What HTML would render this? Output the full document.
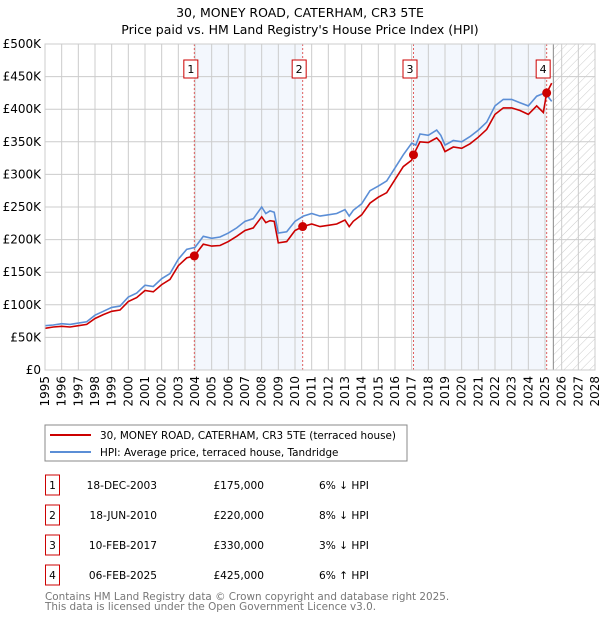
<!DOCTYPE html>
<html><head><meta charset="utf-8"><style>
body{margin:0;background:#fff;font-family:"Liberation Sans","DejaVu Sans",sans-serif;}
#wrap{position:relative;width:600px;height:620px;overflow:hidden;}
</style></head><body><div id="wrap">
<svg id="svg" width="600" height="620" xmlns="http://www.w3.org/2000/svg" font-family="DejaVu Sans, Liberation Sans, sans-serif">
<defs><pattern id="hatch" width="6" height="6" patternUnits="userSpaceOnUse" patternTransform="rotate(45)"><line x1="0" y1="0" x2="0" y2="6" stroke="#ccc" stroke-width="1"/></pattern></defs>
<text x="300" y="17" text-anchor="middle" font-size="12.5">30, MONEY ROAD, CATERHAM, CR3 5TE</text>
<text x="300" y="34" text-anchor="middle" font-size="12.5">Price paid vs. HM Land Registry's House Price Index (HPI)</text>
<g id="plot"></g>
<rect x="45" y="425" width="362" height="36" fill="#fff" stroke="#888"/>
<line x1="50" y1="435" x2="91" y2="435" stroke="#cc0000" stroke-width="2"/>
<text x="100" y="439" font-size="10.4">30, MONEY ROAD, CATERHAM, CR3 5TE (terraced house)</text>
<line x1="50" y1="452" x2="91" y2="452" stroke="#5b8ed6" stroke-width="2"/>
<text x="100" y="456" font-size="10.4">HPI: Average price, terraced house, Tandridge</text>
<g id="table" font-size="10.6"></g>
<text x="45" y="600" font-size="10.4" fill="#777">Contains HM Land Registry data © Crown copyright and database right 2025.</text>
<text x="45" y="610" font-size="10.4" fill="#777">This data is licensed under the Open Government Licence v3.0.</text>
</svg></div>
<script>
const hpiT=[1995,1995.5,1996,1996.5,1997,1997.5,1998,1998.5,1999,1999.5,2000,2000.5,2001,2001.5,2002,2002.5,2003,2003.5,2004,2004.5,2005,2005.5,2006,2006.5,2007,2007.5,2008,2008.25,2008.5,2008.75,2009,2009.5,2010,2010.5,2011,2011.5,2012,2012.5,2013,2013.25,2013.5,2014,2014.5,2015,2015.5,2016,2016.5,2017,2017.25,2017.5,2018,2018.5,2018.75,2019,2019.5,2020,2020.5,2021,2021.5,2022,2022.5,2023,2023.5,2024,2024.5,2025,2025.4];
const hpiV=[68,69,71,70,72,74,84,90,96,98,112,118,130,128,140,148,170,185,188,205,202,204,210,218,228,232,250,240,244,242,210,212,228,236,240,236,238,240,246,236,245,255,275,282,290,310,330,348,345,362,360,368,360,345,352,350,358,368,380,405,415,415,410,405,420,425,412];
const redT=[1995,1995.5,1996,1996.5,1997,1997.5,1998,1998.5,1999,1999.5,2000,2000.5,2001,2001.5,2002,2002.5,2003,2003.5,2003.96,2004.5,2005,2005.5,2006,2006.5,2007,2007.5,2008,2008.25,2008.5,2008.75,2009,2009.5,2010,2010.46,2011,2011.5,2012,2012.5,2013,2013.25,2013.5,2014,2014.5,2015,2015.5,2016,2016.5,2017,2017.11,2017.5,2018,2018.5,2018.75,2019,2019.5,2020,2020.5,2021,2021.5,2022,2022.5,2023,2023.5,2024,2024.5,2024.9,2025.1,2025.4];
const redV=[64,66,67,66,68,70,79,85,90,92,105,111,122,120,131,139,160,172,175,193,190,191,197,205,214,218,235,226,229,228,195,197,214,220,224,220,222,224,230,220,228,238,256,265,272,292,312,322,330,350,349,356,349,335,342,340,347,357,369,392,402,402,398,392,405,395,425,440];
const saleT=[2003.96,2010.46,2017.11,2025.1];
const saleV=[175,220,330,425];
const saleLabels=["1","2","3","4"];
const saleDates=["18-DEC-2003","18-JUN-2010","10-FEB-2017","06-FEB-2025"];
const salePrices=["£175,000","£220,000","£330,000","£425,000"];
const saleDiff=["6% ↓ HPI","8% ↓ HPI","3% ↓ HPI","6% ↑ HPI"];
const yTicks=[0,50,100,150,200,250,300,350,400,450,500];
const yTickLabels=["£0","£50K","£100K","£150K","£200K","£250K","£300K","£350K","£400K","£450K","£500K"];

const NS="http://www.w3.org/2000/svg";
const X0=45,X1=595,Y0=370,Y1=44;
const xs=t=>X0+(t-1995)/(2028-1995)*(X1-X0);
const ys=v=>Y0-v/500*(Y0-Y1);
const plot=document.getElementById('plot');
function mk(tag,attrs,parent){const e=document.createElementNS(NS,tag);for(const k in attrs)e.setAttribute(k,attrs[k]);(parent||plot).appendChild(e);return e;}
let e;
e=mk('rect',{x:X0,y:Y1,width:X1-X0,height:Y0-Y1,fill:'#fff'});


e=mk('rect',{x:xs(saleT[0]),y:Y1,width:xs(saleT[1])-xs(saleT[0]),height:Y0-Y1,fill:'#eef3fc',opacity:0.7});


e=mk('rect',{x:xs(saleT[2]),y:Y1,width:xs(saleT[3])-xs(saleT[2]),height:Y0-Y1,fill:'#eef3fc',opacity:0.7});


e=mk('rect',{x:xs(2025.5),y:Y1,width:X1-xs(2025.5),height:Y0-Y1,fill:'url(#hatch)'});


for(let yr=1995;yr<=2028;yr++){
 e=mk('line',{x1:xs(yr),x2:xs(yr),y1:Y1,y2:Y0,stroke:'#ccc','stroke-width':1});
 
 
 e=mk('text',{x:0,y:0,'font-size':12,'text-anchor':'end',transform:`translate(${xs(yr)+4},${Y0+6}) rotate(-90)`});
 e.textContent=yr;
 
 
}
yTicks.forEach((v,i)=>{
 e=mk('line',{x1:X0,x2:X1,y1:ys(v),y2:ys(v),stroke:'#ccc','stroke-width':1});
 
 
 e=mk('text',{x:41,y:ys(v)+4,'font-size':12,'text-anchor':'end'});
 e.textContent=yTickLabels[i];
 
 
});
e=mk('line',{x1:xs(2025.5),x2:xs(2025.5),y1:Y1,y2:Y0,stroke:'#888','stroke-width':1});


saleT.forEach((t,i)=>{
 e=mk('line',{x1:xs(t),x2:xs(t),y1:Y1,y2:Y0,stroke:'#e06060','stroke-width':1,'stroke-dasharray':'2,2'});
 
 
});
function pathOf(T,V){return T.map((t,i)=>(i?'L':'M')+xs(t).toFixed(1)+','+ys(V[i]).toFixed(1)).join('');}
e=mk('path',{d:pathOf(hpiT,hpiV),fill:'none',stroke:'#5b8ed6','stroke-width':1.6});


e=mk('path',{d:pathOf(redT,redV),fill:'none',stroke:'#cc0000','stroke-width':1.6});


saleT.forEach((t,i)=>{
 e=mk('circle',{cx:xs(t),cy:ys(saleV[i]),r:4.5,fill:'#cc0000'});
 
 
 const bx=xs(t)-3.5;
 e=mk('rect',{x:bx-7,y:60,width:14,height:18,fill:'#fff',stroke:'#cc0000','stroke-width':1});
 
 
 e=mk('text',{x:bx,y:73,'font-size':11,'text-anchor':'middle'});
 e.textContent=saleLabels[i];
 
 
});
e=mk('rect',{x:X0,y:Y1,width:X1-X0,height:Y0-Y1,fill:'none',stroke:'#ccc'});


const tb=document.getElementById('table');
saleT.forEach((t,i)=>{
 const y=478+i*30;
 e=mk('rect',{x:45.5,y:y-3,width:14,height:20,fill:'#fff',stroke:'#cc0000'},tb);
 
 
 e=mk('text',{x:52.5,y:y+11,'text-anchor':'middle'},tb);e.textContent=saleLabels[i];
 
 
 e=mk('text',{x:157,y:y+11,'text-anchor':'end'},tb);e.textContent=saleDates[i];
 
 
 e=mk('text',{x:264,y:y+11,'text-anchor':'end'},tb);e.textContent=salePrices[i];
 
 
 e=mk('text',{x:319,y:y+11},tb);e.textContent=saleDiff[i];
 
 
});
</script></body></html>
